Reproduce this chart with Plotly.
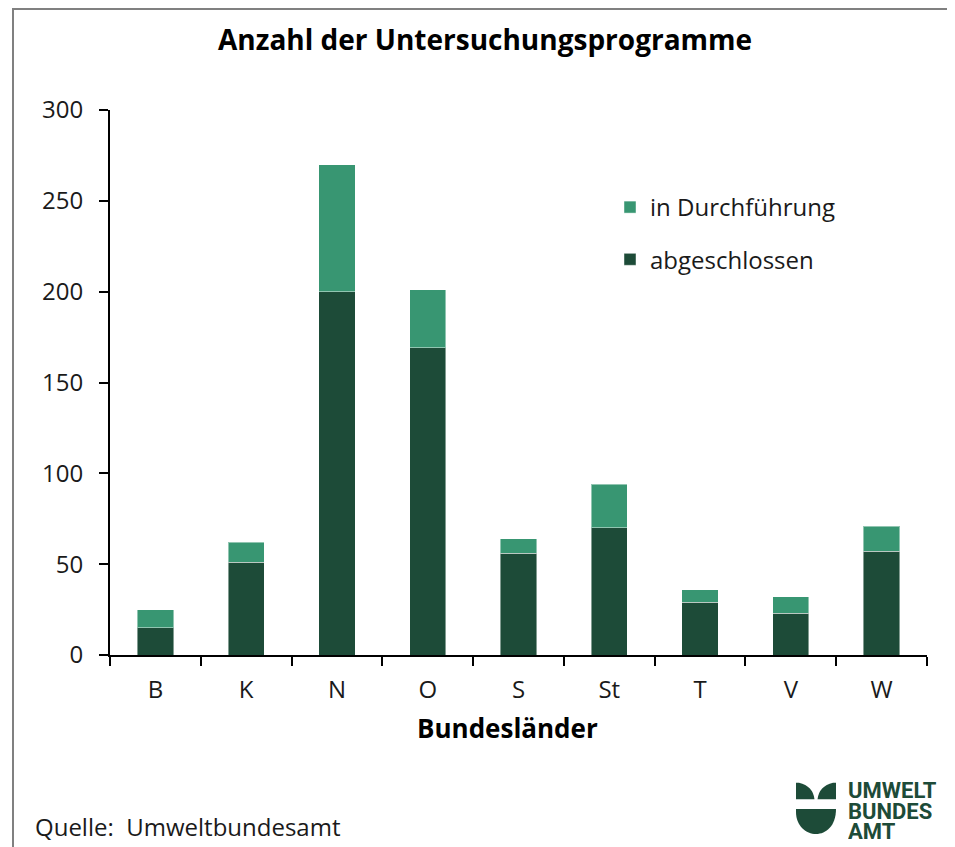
import plotly.graph_objects as go

# Daten
laender = ["B", "K", "N", "O", "S", "St", "T", "V", "W"]
abgeschlossen = [15, 51, 200, 169, 56, 70, 29, 23, 57]
gesamt = [25, 62, 270, 201, 64, 94, 36, 32, 71]
in_durchfuehrung = [g - a for g, a in zip(gesamt, abgeschlossen)]
y_ticks = [0, 50, 100, 150, 200, 250, 300]

DUNKEL = "#1d4b38"
HELL = "#389672"
FONT = "Open Sans"

# Der Browser setzt 8px Rand um die Seite -> Figur entsprechend kleiner
OFF = 8
W, H = 955 - OFF, 847 - OFF
L, R, T, B = 110 - OFF, 28, 110 - OFF, 192


def px(x, y):
    # Seitenpixel -> paper-Koordinaten
    x, y = x - OFF, y - OFF
    return (x - L) / (W - L - R), (H - B - y) / (H - T - B)


def path(points):
    out = ""
    for cmd, pts in points:
        out += cmd
        for x, y in pts:
            a, b = px(x, y)
            out += f" {a:.5f},{b:.5f}"
        out += " "
    return out + "Z"


def text(t, x, y, size, xanchor="center", **kw):
    fig.add_annotation(text=t, xref="paper", yref="paper", x=px(x, 0)[0], y=px(0, y)[1],
                       xanchor=xanchor, yanchor="middle", showarrow=False,
                       font=dict(size=size, color=kw.pop("color", "black"), family=kw.pop("family", FONT)),
                       **kw)


fig = go.Figure()
fig.add_trace(go.Bar(
    x=laender, y=abgeschlossen, name="abgeschlossen",
    marker=dict(color=DUNKEL, line=dict(color="rgba(255,255,255,0.45)", width=1)),
    legendgroup="a", legendrank=2,
))
fig.add_trace(go.Bar(
    x=laender, y=in_durchfuehrung, name="in Durchführung",
    marker=dict(color=HELL, line=dict(color="rgba(255,255,255,0.45)", width=1)),
    legendgroup="b", legendrank=1,
))

fig.update_layout(
    width=W, height=H,
    margin=dict(l=L, r=R, t=T, b=B),
    barmode="stack", bargap=0.6,
    plot_bgcolor="white", paper_bgcolor="white",
    font=dict(family=FONT, size=24, color="#1a1a1a"),
    showlegend=True,
    legend=dict(
        x=px(610, 0)[0], y=px(0, 185)[1], xanchor="left", yanchor="top",
        font=dict(size=24), tracegroupgap=18, itemwidth=30, traceorder="grouped",
        bgcolor="rgba(0,0,0,0)",
    ),
    xaxis=dict(
        type="category", showline=True, linecolor="black", linewidth=2,
        ticks="outside", tickson="boundaries", ticklen=9, tickwidth=2, tickcolor="black",
        tickfont=dict(size=24), showgrid=False, ticklabelstandoff=12,
    ),
    yaxis=dict(
        range=[0, 300], tickvals=y_ticks, showline=True, linecolor="black", linewidth=2,
        ticks="outside", ticklen=9, tickwidth=2, tickcolor="black",
        tickfont=dict(size=24), showgrid=False, zeroline=False, ticklabelstandoff=11,
    ),
)

# Titel, Achsentitel, Quelle
text("<b>Anzahl der Untersuchungsprogramme</b>", 485, 39, 28)
text("<b>Bundesländer</b>", 507, 728, 26)
text("Quelle:\u00a0\u00a0Umweltbundesamt", 33, 826, 24, xanchor="left", color="#1a1a1a")

# Rahmen
fig.add_shape(type="line", xref="paper", yref="paper", x0=px(13, 0)[0], x1=px(13, 0)[0],
              y0=px(0, 8)[1], y1=px(0, 900)[1], line=dict(color="#808080", width=2))
fig.add_shape(type="line", xref="paper", yref="paper", x0=px(12, 0)[0], x1=px(1000, 0)[0],
              y0=px(0, 9)[1], y1=px(0, 9)[1], line=dict(color="#808080", width=2))

# Logo
logo = dict(type="path", xref="paper", yref="paper", fillcolor=DUNKEL, line=dict(width=0))
fig.add_shape(path=path([("M", [(796, 782.7)]), ("L", [(799, 782.7)]),
                         ("Q", [(813, 786), (814.5, 799.3)]), ("L", [(796, 799.3)])]), **logo)
fig.add_shape(path=path([("M", [(836, 782.7)]), ("L", [(833, 782.7)]),
                         ("Q", [(819, 786), (817.5, 799.3)]), ("L", [(836, 799.3)])]), **logo)
fig.add_shape(path=path([("M", [(796, 801.5)]), ("L", [(836, 801.5), (836, 806.5), (796, 806.5)])]), **logo)
fig.add_shape(path=path([("M", [(796, 809)]), ("L", [(836, 809), (836, 812)]),
                         ("C", [(836, 826), (826, 834), (816, 834)]),
                         ("C", [(806, 834), (796, 826), (796, 812)])]), **logo)
for txt, yy in [("UMWELT", 790), ("BUNDES", 811), ("AMT", 831)]:
    text(f"<b>{txt}</b>", 846, yy, 22, xanchor="left", color=DUNKEL, family="Roboto", height=20)

fig.write_html("out.html", config={"displayModeBar": False})
